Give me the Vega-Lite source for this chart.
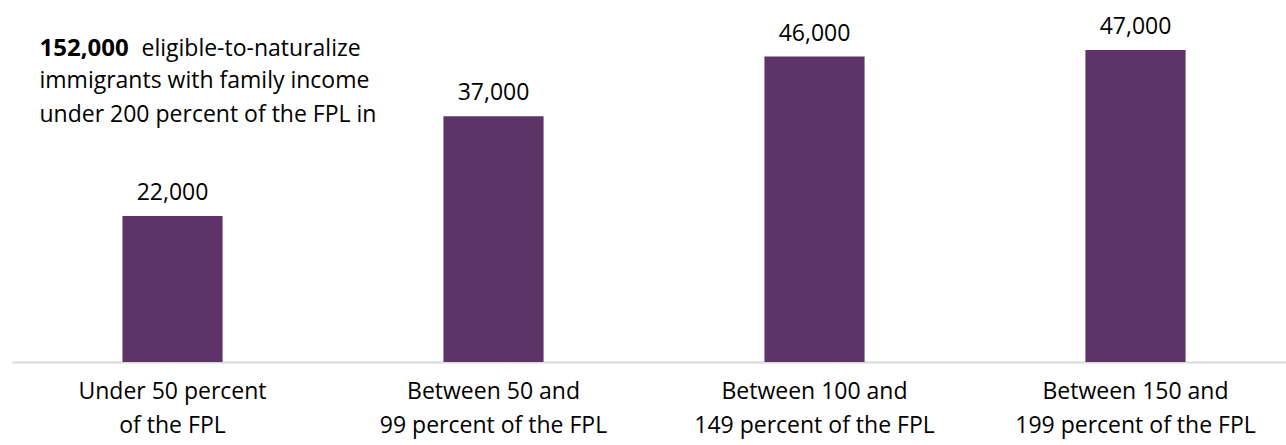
{
  "$schema": "https://vega.github.io/schema/vega-lite/v6.json",
  "width": 1284,
  "height": 332,
  "autosize": "none",
  "padding": {"left": 12, "top": 30, "right": 0, "bottom": 83},
  "background": "white",
  "config": {"view": {"stroke": null}, "font": "Open Sans", "text": {"font": "Open Sans"}},
  "datasets": {
    "bars": [
      {"category": "Under 50 percent\nof the FPL", "value": 22000},
      {"category": "Between 50 and\n99 percent of the FPL", "value": 37000},
      {"category": "Between 100 and\n149 percent of the FPL", "value": 46000},
      {"category": "Between 150 and\n199 percent of the FPL", "value": 47000}
    ],
    "noteBold": [{"text": "152,000", "pos": 46100}],
    "noteFirst": [{"text": "eligible-to-naturalize", "pos": 46100}],
    "noteRest": [
      {"text": "immigrants with family income", "pos": 41200},
      {"text": "under 200 percent of the FPL in", "pos": 36150}
    ]
  },
  "encoding": {
    "y": {"type": "quantitative", "scale": {"domain": [0, 50000]}, "axis": null}
  },
  "layer": [
    {
      "data": {"name": "bars"},
      "mark": {"type": "bar", "color": "#5e3468"},
      "encoding": {
        "x": {
          "field": "category", "type": "nominal", "sort": null,
          "scale": {"paddingInner": 0.688, "paddingOuter": 0.344},
          "axis": {
            "title": null, "labelAngle": 0, "ticks": false,
            "domainColor": "#d9d9d9", "domainWidth": 2,
            "labelFontSize": 23, "labelColor": "#000000", "labelFont": "Open Sans",
            "labelLineHeight": 34, "labelPadding": 18, "labelBaseline": "top",
            "labelLimit": 400,
            "labelExpr": "split(datum.value, '\\n')"
          }
        },
        "y": {"field": "value", "type": "quantitative"}
      }
    },
    {
      "data": {"name": "bars"},
      "mark": {"type": "text", "fontSize": 23, "color": "#000000", "baseline": "alphabetic", "dy": -16},
      "encoding": {
        "x": {"field": "category", "type": "nominal", "sort": null},
        "y": {"field": "value", "type": "quantitative"},
        "text": {"field": "value", "type": "quantitative", "format": ",.0f"}
      }
    },
    {
      "data": {"name": "noteBold"},
      "mark": {"type": "text", "fontSize": 24, "fontWeight": "bold", "color": "#000000", "align": "left", "baseline": "alphabetic", "dx": -133},
      "encoding": {
        "x": {"datum": "Under 50 percent\nof the FPL", "type": "nominal"},
        "y": {"field": "pos", "type": "quantitative"},
        "text": {"field": "text"}
      }
    },
    {
      "data": {"name": "noteFirst"},
      "mark": {"type": "text", "fontSize": 23, "color": "#000000", "align": "left", "baseline": "alphabetic", "dx": -31},
      "encoding": {
        "x": {"datum": "Under 50 percent\nof the FPL", "type": "nominal"},
        "y": {"field": "pos", "type": "quantitative"},
        "text": {"field": "text"}
      }
    },
    {
      "data": {"name": "noteRest"},
      "mark": {"type": "text", "fontSize": 23, "color": "#000000", "align": "left", "baseline": "alphabetic", "dx": -133},
      "encoding": {
        "x": {"datum": "Under 50 percent\nof the FPL", "type": "nominal"},
        "y": {"field": "pos", "type": "quantitative"},
        "text": {"field": "text"}
      }
    }
  ]
}
